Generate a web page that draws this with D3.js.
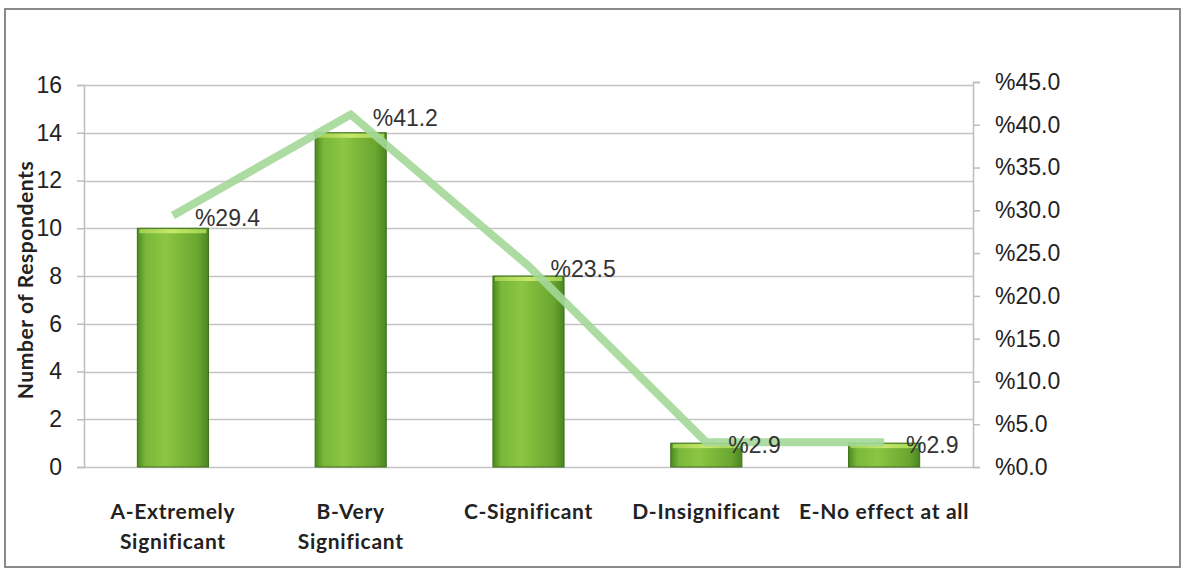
<!DOCTYPE html>
<html>
<head>
<meta charset="utf-8">
<script src="https://cdn.jsdelivr.net/npm/d3@7"></script>
<style>
  html, body { margin: 0; padding: 0; background: #fff; }
  svg { display: block; }
</style>
</head>
<body>
<svg id="chart" width="1182" height="569"></svg>
<script>
const categories = [["A-Extremely", "Significant"], ["B-Very", "Significant"], ["C-Significant"], ["D-Insignificant"], ["E-No effect at all"]];
const counts = [10, 14, 8, 1, 1];
const percents = [29.4, 41.2, 23.5, 2.9, 2.9];
const leftTicks = [0, 2, 4, 6, 8, 10, 12, 14, 16];
const rightTicks = [0, 5, 10, 15, 20, 25, 30, 35, 40, 45];

const svg = d3.select("#chart");
const left = 84, right = 973, bottom = 467;

// outer frame
svg.append("rect").attr("x", 5).attr("y", 9).attr("width", 1175).attr("height", 558)
  .attr("fill", "none").attr("stroke", "#8a8a8a").attr("stroke-width", 2);

const x = d3.scaleBand().domain(d3.range(categories.length)).range([left, right]).paddingInner(0.6).paddingOuter(0.3);
const yL = d3.scaleLinear().domain([0, 16]).range([bottom, 85]);
const yR = d3.scaleLinear().domain([0, 45]).range([bottom, 82]);

// gradient
const defs = svg.append("defs");
const g = defs.append("linearGradient").attr("id", "barGrad").attr("x1", 0).attr("x2", 1).attr("y1", 0).attr("y2", 0);
g.append("stop").attr("offset", "0%").attr("stop-color", "#4a8a1f");
g.append("stop").attr("offset", "12%").attr("stop-color", "#7ab83a");
g.append("stop").attr("offset", "40%").attr("stop-color", "#8cc642");
g.append("stop").attr("offset", "85%").attr("stop-color", "#6aa630");
g.append("stop").attr("offset", "100%").attr("stop-color", "#4b8522");
const gt = defs.append("linearGradient").attr("id", "capGrad").attr("x1", 0).attr("x2", 1).attr("y1", 0).attr("y2", 0);
gt.append("stop").attr("offset", "0%").attr("stop-color", "#9fd050");
gt.append("stop").attr("offset", "50%").attr("stop-color", "#c8e86a");
gt.append("stop").attr("offset", "100%").attr("stop-color", "#9fd050");

// gridlines
svg.append("g").selectAll("line").data(leftTicks).join("line")
  .attr("x1", left).attr("x2", right)
  .attr("y1", d => Math.round(yL(d)) + 0.5).attr("y2", d => Math.round(yL(d)) + 0.5)
  .attr("stroke", "#c4c4c4").attr("stroke-width", 1.5);

const numFont = "Liberation Sans, Arial, sans-serif";
const catFont = "Lato, 'Open Sans', sans-serif";

// left axis
const axL = svg.append("g").attr("transform", `translate(${left},0)`)
  .call(d3.axisLeft(yL).tickValues(leftTicks).tickSize(7).tickPadding(15));
axL.select(".domain").attr("stroke", "#bdbdbd").attr("stroke-width", 1.5);
axL.selectAll(".tick line").attr("stroke", "#bdbdbd").attr("stroke-width", 1.5);
axL.selectAll("text").attr("font-family", numFont).attr("font-size", 23).attr("fill", "#222");

// right axis
const axR = svg.append("g").attr("transform", `translate(${right},0)`)
  .call(d3.axisRight(yR).tickValues(rightTicks).tickSize(7).tickPadding(15).tickFormat(d => "%" + d.toFixed(1)));
axR.select(".domain").attr("stroke", "#bdbdbd").attr("stroke-width", 1.5);
axR.selectAll(".tick line").attr("stroke", "#bdbdbd").attr("stroke-width", 1.5);
axR.selectAll("text").attr("font-family", numFont).attr("font-size", 23).attr("fill", "#222");

// bars
svg.append("g").selectAll("rect").data(counts).join("rect")
  .attr("x", (d, i) => x(i)).attr("width", x.bandwidth())
  .attr("y", d => yL(d)).attr("height", d => bottom - yL(d))
  .attr("fill", "url(#barGrad)").attr("stroke", "#3f6f1a").attr("stroke-width", 1);
svg.append("g").selectAll("rect").data(counts).join("rect")
  .attr("x", (d, i) => x(i) + 2).attr("width", x.bandwidth() - 4)
  .attr("y", d => yL(d) + 1).attr("height", 4)
  .attr("fill", "url(#capGrad)");

// line
const line = d3.line().x((d, i) => x(i) + x.bandwidth() / 2).y(d => yR(d));
svg.append("path").datum(percents).attr("d", line)
  .attr("fill", "none").attr("stroke", "#a3d897").attr("stroke-opacity", 0.9).attr("stroke-width", 8)
  .attr("stroke-linejoin", "miter");

// percent labels
svg.append("g").selectAll("text").data(percents).join("text")
  .attr("x", (d, i) => x(i) + x.bandwidth() / 2 + 22)
  .attr("y", d => yR(d) + 11)
  .attr("font-family", numFont).attr("font-size", 23).attr("fill", "#333")
  .text(d => "%" + d.toFixed(1));

// category labels
const cat = svg.append("g").selectAll("text").data(categories).join("text")
  .attr("x", (d, i) => x(i) + x.bandwidth() / 2)
  .attr("y", 519)
  .attr("text-anchor", "middle")
  .attr("font-family", catFont).attr("font-weight", "bold").attr("font-size", 21)
  .attr("letter-spacing", 0.7).attr("fill", "#222");
cat.selectAll("tspan").data(d => d).join("tspan")
  .attr("x", function() { return d3.select(this.parentNode).attr("x"); })
  .attr("dy", (d, i) => i === 0 ? 0 : 30)
  .text(d => d);

// y axis title
svg.append("text").attr("transform", "translate(33,280) rotate(-90)")
  .attr("text-anchor", "middle")
  .attr("font-family", catFont).attr("font-weight", "bold").attr("font-size", 21)
  .attr("letter-spacing", 0.6).attr("fill", "#222")
  .text("Number of Respondents");
</script>
</body>
</html>
